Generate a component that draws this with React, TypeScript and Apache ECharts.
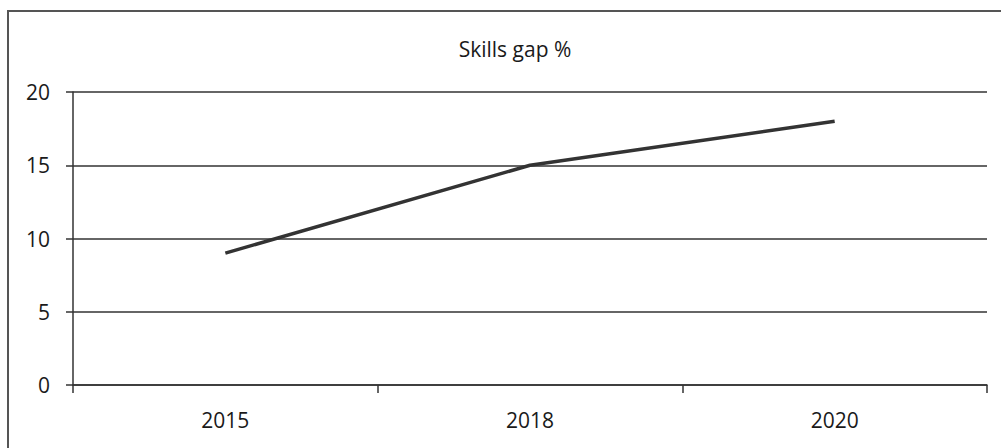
import React, { useEffect, useRef } from "react";
import * as echarts from "echarts";

const title = "Skills gap %";
const years = ["2015", "2018", "2020"];
const skillsGap = [9, 15, 18];
const yTicks = { min: 0, max: 20, interval: 5 };

export default function App() {
  const ref = useRef<HTMLDivElement>(null);
  useEffect(() => {
    if (!ref.current) return;
    const chart = echarts.init(ref.current, undefined, { renderer: "svg" });
    const font = "'Open Sans', 'Liberation Sans', sans-serif";
    chart.setOption({
      animation: false,
      backgroundColor: "#ffffff",
      title: {
        text: title,
        left: 510,
        top: 33,
        textAlign: "center",
        textStyle: { fontFamily: font, fontSize: 21, fontWeight: "normal", color: "#1a1a1a" },
      },
      graphic: [
        {
          type: "rect",
          shape: { x: 8, y: 11, width: 1010, height: 460 },
          style: { fill: "none", stroke: "#555", lineWidth: 2 },
          silent: true,
        },
      ],
      grid: { left: 73, right: 14, top: 92, bottom: 63, containLabel: false },
      xAxis: {
        type: "category",
        data: years,
        boundaryGap: true,
        axisLine: { lineStyle: { color: "#333", width: 1.5 } },
        axisTick: { show: true, length: 8, lineStyle: { color: "#333", width: 1.5 } },
        axisLabel: { fontFamily: font, fontSize: 21, color: "#1a1a1a", margin: 24 },
      },
      yAxis: {
        type: "value",
        min: yTicks.min,
        max: yTicks.max,
        interval: yTicks.interval,
        axisLine: { show: true, lineStyle: { color: "#333", width: 1.5 } },
        axisTick: { show: true, length: 7, lineStyle: { color: "#333", width: 1.5 } },
        axisLabel: { fontFamily: font, fontSize: 21, color: "#1a1a1a", margin: 23 },
        splitLine: { show: true, lineStyle: { color: "#333", width: 1.5 } },
      },
      series: [
        {
          type: "line",
          data: skillsGap,
          symbol: "none",
          lineStyle: { color: "#333333", width: 3.5 },
        },
      ],
    });
    return () => chart.dispose();
  }, []);
  return (
    <div
      ref={ref}
      style={{ position: "absolute", left: 0, top: 0, width: 1001, height: 448 }}
    />
  );
}
